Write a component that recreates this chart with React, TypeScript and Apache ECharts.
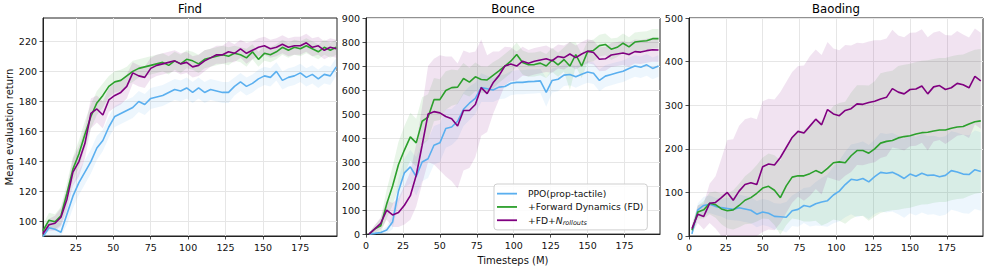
import React, { useEffect, useRef } from 'react';
import * as echarts from 'echarts';

const SERIES_NAMES = ['PPO(prop-tactile)', '+Forward Dynamics (FD)', '+FD+Nrollouts'];
const COLORS = ['#5aafef', '#2ca02c', '#800080'];
const PANEL_TITLES = ['Find', 'Bounce', 'Baoding'];

const findX = [3,7,11,15,19,23,27,31,35,39,43,47,51,55,59,63,67,71,75,79,83,87,91,95,99,103,107,111,115,119,123,127,131,135,139,143,147,151,155,159,163,167,171,175,179,183,187,191,195,199];
const stepX = [2,6,10,14,18,22,26,30,34,38,42,46,50,54,58,62,66,70,74,78,82,86,90,94,98,102,106,110,114,118,122,126,130,134,138,142,146,150,154,158,162,166,170,174,178,182,186,190,194,198];

// Find
const findBlue = [90,96,95,93,105,117,126,133,140,149, 154,163,170,172,174,176,180,178,182,183, 184,186,188,187,189,186,189,186,188,187, 186,186,190,193,190,192,195,197,196,200, 194,196,197,199,196,198,195,198,197,203];
const findGreen = [94,101,100,104,119,135,145,158,170,179, 184,190,193,194,197,200,202,203,204,205, 206,204,207,205,208,207,205,208,209,210, 211,210,212,211,209,213,208,212,211,213, 216,214,216,215,217,215,213,216,214,216];
const findPurple = [92,98,99,103,115,133,140,152,172,175, 171,181,184,186,190,199,197,196,202,204, 205,206,207,205,206,203,204,207,209,211, 211,213,212,215,212,214,216,217,215,216, 218,216,217,217,219,216,217,214,216,215];
const findBlueStd = [4,5,5,6,7,8,8,8,8,8, 7,7,7,7,7,7,7,7,7,7, 7,7,7,7,7,7,7,7,7,7, 7,7,6,6,6,6,6,6,6,6, 6,6,6,6,6,6,6,6,6,6];
const findGreenStd = [4,5,5,6,7,8,9,9,8,8, 8,7,7,7,6,7,6,6,6,6, 6,6,6,6,6,6,6,6,6,6, 6,6,5,5,6,5,5,5,5,5, 5,5,5,5,5,5,5,5,5,5];
const findPurpleStd = [3,4,5,6,7,9,10,10,10,9, 9,8,8,8,8,7,7,7,7,7, 7,7,7,7,7,7,7,7,6,6, 6,7,6,6,7,6,6,6,6,6, 6,6,6,6,6,6,6,6,6,6];

// Bounce
const bounceBlue = [0,3,7,17,50,180,255,280,240,300, 314,370,380,440,446,470,520,545,565,610, 605,600,612,615,628,632,632,635,636,638, 590,640,645,662,665,655,666,675,670,640, 658,665,672,678,690,700,695,705,690,700];
const bounceGreen = [0,22,35,125,200,290,350,405,380,470, 487,560,560,598,610,612,648,633,655,644, 642,661,680,700,720,748,715,705,706,712, 700,725,705,727,700,748,700,760,765,785, 790,770,778,795,780,800,803,805,814,814];
const bouncePurple = [0,22,45,100,80,90,120,160,245,370, 500,510,505,490,480,450,515,515,540,610, 585,630,660,700,708,700,720,712,720,725, 730,722,740,735,750,735,750,762,756,728, 730,746,750,754,748,760,758,764,768,767];
const bounceBlueStd = [3,5,8,15,30,50,60,70,80,80, 80,80,80,80,75,75,70,70,65,60, 55,50,50,50,50,50,50,50,50,50, 60,50,50,45,45,45,45,45,45,45, 45,45,45,45,45,45,45,45,45,45];
const bounceGreenStd = [5,15,30,60,80,95,100,100,100,100, 95,90,85,80,75,70,65,60,60,55, 55,55,50,50,50,50,50,50,50,50, 50,50,50,50,100,50,50,45,45,45, 45,45,40,40,40,40,40,40,40,40];
const bouncePurpleStd = [5,15,25,40,50,60,80,100,130,160, 200,220,240,250,260,260,250,240,220,200, 160,130,100,80,70,60,60,55,55,55, 55,50,50,50,50,50,50,50,50,50, 50,50,50,50,50,50,50,50,50,50];

// Baoding
const baodingBlue = [5,60,70,73,68,65,63,61,65,62, 59,50,55,52,45,44,43,58,61,70, 67,74,78,81,94,103,118,130,128,132, 124,136,146,144,146,140,132,142,137,144, 139,140,136,139,150,147,142,141,152,148];
const baodingGreen = [13,55,60,75,72,62,58,60,70,82, 88,98,110,114,105,88,115,135,138,138, 143,150,144,155,168,170,168,184,196,196, 190,200,213,217,219,225,228,230,234,237, 238,241,243,243,247,250,251,257,262,264];
const baodingPurple = [17,50,45,75,77,88,100,82,103,118, 122,118,159,165,163,180,203,226,240,236, 252,268,255,290,280,276,288,292,303,302, 306,309,314,318,338,330,326,336,337,344, 326,342,345,336,340,350,347,340,366,356];
const baodingBlueStd = [5,15,20,20,20,20,25,25,30,30, 30,30,30,30,30,30,35,35,40,40, 45,50,55,60,65,70,75,80,85,85, 85,85,90,90,90,90,90,90,90,90, 90,90,90,90,90,90,90,90,90,90];
const baodingGreenStd = [10,15,20,25,30,35,40,45,50,55, 60,65,70,75,80,85,90,95,100,105, 110,115,120,125,130,135,140,145,150,150, 155,155,160,160,160,165,165,165,165,165, 165,165,165,165,165,165,165,165,165,165];
const baodingPurpleStd = [10,20,30,45,60,90,120,140,150,150, 150,150,150,150,150,150,150,150,150,155, 160,160,160,155,150,150,150,145,140,140, 140,140,135,135,135,130,130,130,130,130, 130,125,125,125,120,120,115,115,110,110];

const xTicksFind = [25, 50, 75, 100, 125, 150, 175];
const xTicksOther = [0, 25, 50, 75, 100, 125, 150, 175];
const yTicksFind = [100, 120, 140, 160, 180, 200, 220];

const FONT = 'DejaVu Sans';

export default function App() {
  const ref = useRef<HTMLDivElement>(null);
  useEffect(() => {
    if (!ref.current) return;
    const chart = echarts.init(ref.current, null, { renderer: 'svg' });

    const panels = [
      { xs: findX, means: [findBlue, findGreen, findPurple], stds: [findBlueStd, findGreenStd, findPurpleStd] },
      { xs: stepX, means: [bounceBlue, bounceGreen, bouncePurple], stds: [bounceBlueStd, bounceGreenStd, bouncePurpleStd] },
      { xs: stepX, means: [baodingBlue, baodingGreen, baodingPurple], stds: [baodingBlueStd, baodingGreenStd, baodingPurpleStd] },
    ];
    const lefts = [43, 366, 689];
    const W = 294, TOP = 18, H = 218;

    const clamp = (v: number, a: number, b: number) => Math.max(a, Math.min(b, v));

    const series: any[] = [];
    panels.forEach((p, gi) => {
      p.means.forEach((m, si) => {
        const sd = p.stds[si];
        series.push({
          type: 'custom',
          xAxisIndex: gi,
          yAxisIndex: gi,
          silent: true,
          z: 1,
          data: [[p.xs[0], m[0]]],
          encode: { x: 0, y: 1 },
          renderItem: (params: any, api: any) => {
            const cs = params.coordSys;
            const up = p.xs.map((x, i) => api.coord([x, m[i] + sd[i]]));
            const lo = p.xs.map((x, i) => api.coord([x, m[i] - sd[i]])).reverse();
            const pts = up.concat(lo).map((pt: number[]) => [
              clamp(pt[0], cs.x, cs.x + cs.width),
              clamp(pt[1], cs.y, cs.y + cs.height),
            ]);
            return {
              type: 'polygon',
              shape: { points: pts },
              style: { fill: COLORS[si], opacity: 0.11 },
              silent: true,
            };
          },
        });
      });
      p.means.forEach((m, si) => {
        series.push({
          type: 'line',
          name: SERIES_NAMES[si],
          xAxisIndex: gi,
          yAxisIndex: gi,
          z: 3,
          showSymbol: false,
          symbol: 'none',
          clip: true,
          color: COLORS[si],
          lineStyle: { color: COLORS[si], width: 1.6 },
          data: p.xs.map((x, i) => [x, m[i]]),
        });
      });
    });

    const axisCommon = {
      axisLine: { show: true, onZero: false, lineStyle: { color: '#222', width: 1 } },
      axisTick: { show: true, inside: false, length: 3.5, lineStyle: { color: '#222', width: 0.8 } },
      splitLine: { show: true, lineStyle: { color: '#e6e6e6', width: 1 } },
    };
    const labelCommon = { fontSize: 9.5, color: '#111', fontFamily: FONT };

    const xAxis = [0, 1, 2].map((gi) => {
      const ticks = gi === 0 ? xTicksFind : xTicksOther;
      return {
        type: 'value',
        gridIndex: gi,
        min: gi === 0 ? 3 : 0,
        max: gi === 1 ? 199 : 199.5,
        ...axisCommon,
        axisTick: { ...axisCommon.axisTick, customValues: ticks },
        axisLabel: { ...labelCommon, margin: 6, customValues: ticks },
        name: gi === 1 ? 'Timesteps (M)' : '',
        nameLocation: 'middle',
        nameGap: 19,
        nameTextStyle: { fontSize: 10, color: '#111', fontFamily: FONT, verticalAlign: 'top' },
      };
    });

    const yAxis = [0, 1, 2].map((gi) => {
      const base: any = {
        type: 'value',
        gridIndex: gi,
        ...axisCommon,
        axisLabel: { ...labelCommon, margin: 6 },
      };
      if (gi === 0) {
        base.min = 90.5;
        base.max = 235.5;
        base.axisTick = { ...axisCommon.axisTick, customValues: yTicksFind };
        base.axisLabel = { ...labelCommon, margin: 6, customValues: yTicksFind };
        base.name = 'Mean evaluation return';
        base.nameLocation = 'middle';
        base.nameGap = 29;
        base.nameTextStyle = { fontSize: 10, color: '#111', fontFamily: FONT };
      } else if (gi === 1) {
        base.min = 0; base.max = 900; base.interval = 100;
      } else {
        base.min = 0; base.max = 500; base.interval = 100;
      }
      return base;
    });

    const grid = lefts.map((l) => ({
      left: l, top: TOP, width: W, height: H,
      show: true, borderColor: '#222', borderWidth: 1, backgroundColor: 'transparent',
    }));

    const graphic = PANEL_TITLES.map((t, i) => ({
      type: 'text',
      x: lefts[i] + W / 2,
      y: 8.5,
      style: {
        text: t,
        fill: '#000',
        font: `11.7px "${FONT}"`,
        textAlign: 'center',
        textVerticalAlign: 'middle',
        align: 'center',
        verticalAlign: 'middle',
      },
    }));

    chart.setOption({
      animation: false,
      textStyle: { fontFamily: FONT },
      grid,
      xAxis,
      yAxis,
      legend: {
        data: SERIES_NAMES,
        orient: 'vertical',
        left: 494,
        top: 184,
        icon: 'rect',
        itemWidth: 20,
        itemHeight: 1.8,
        itemGap: 0,
        padding: [3, 4, 3, 3],
        borderColor: '#cfcfcf',
        borderWidth: 1,
        borderRadius: 3,
        backgroundColor: 'rgba(255,255,255,0.85)',
        formatter: (name: string) => (name === '+FD+Nrollouts' ? '+FD+{i|N}{s|rollouts}' : name),
        textStyle: {
          fontSize: 9.2,
          color: '#111',
          fontFamily: FONT,
          lineHeight: 13.3,
          padding: [0, 0, 0, 6],
          rich: {
            i: { fontSize: 9.2, fontStyle: 'italic', fontFamily: FONT, color: '#111', lineHeight: 13.3 },
            s: { fontSize: 6.5, fontStyle: 'italic', fontFamily: FONT, color: '#111', padding: [4.6, 0, 0, 0] },
          },
        },
      },
      graphic,
      series,
    });

    return () => chart.dispose();
  }, []);

  return (
    <div
      ref={ref}
      style={{ position: 'absolute', left: 0, top: 0, width: 987, height: 270, background: '#fff' }}
    />
  );
}
